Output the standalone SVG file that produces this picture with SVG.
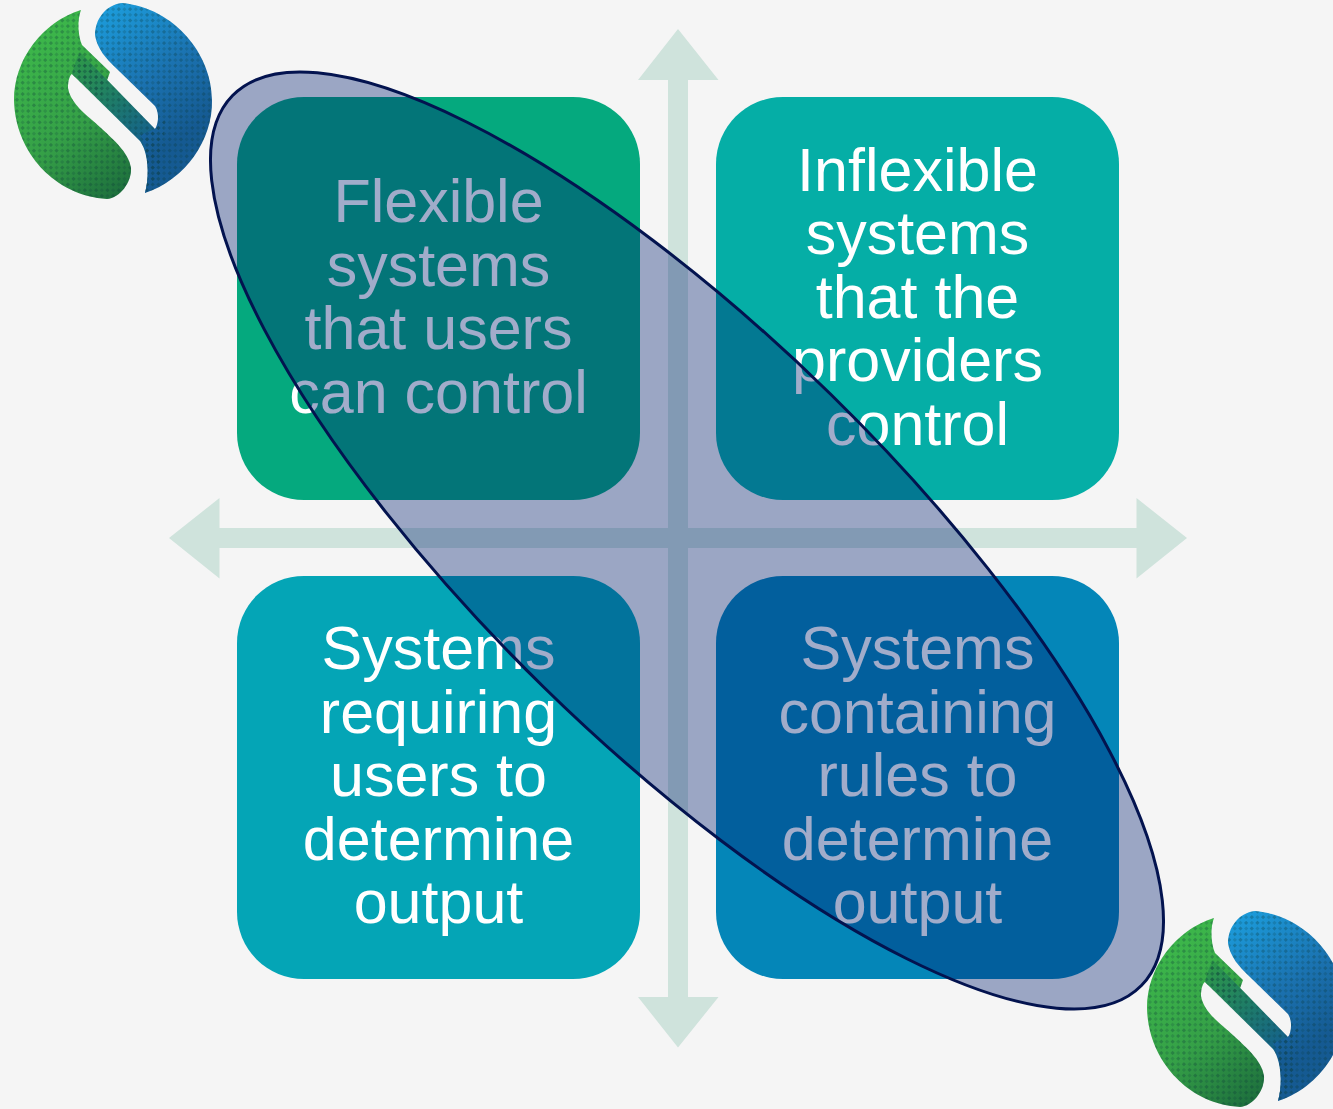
<svg xmlns="http://www.w3.org/2000/svg" width="1333" height="1109" viewBox="0 0 1333 1109">
<style>
.box{stroke:none}
.lbl{font-family:"Liberation Sans",Arial,sans-serif;font-size:61px;fill:#fff;text-anchor:middle}
.arrow{fill:#cfe3dc}
</style>
<defs>
<linearGradient id="gGreen" gradientUnits="userSpaceOnUse" x1="30" y1="50" x2="140" y2="190">
<stop offset="0" stop-color="#3cb54a"/><stop offset=".5" stop-color="#35a047"/><stop offset="1" stop-color="#1b6a3c"/>
</linearGradient>
<linearGradient id="gBand" gradientUnits="userSpaceOnUse" x1="80" y1="50" x2="150" y2="140">
<stop offset="0" stop-color="#2f9a47"/><stop offset=".5" stop-color="#1f7d66"/><stop offset="1" stop-color="#14608f"/>
</linearGradient>
<linearGradient id="gBlue" gradientUnits="userSpaceOnUse" x1="110" y1="10" x2="190" y2="130">
<stop offset="0" stop-color="#1c9ad9"/><stop offset=".55" stop-color="#1b72b0"/><stop offset="1" stop-color="#155a92"/>
</linearGradient>
<pattern id="dither" width="8" height="8" patternUnits="userSpaceOnUse" patternTransform="rotate(45)">
<rect x="1" y="1" width="3" height="3" fill="#0a3a3a" fill-opacity=".3"/>
<rect x="5" y="5" width="3" height="3" fill="#0a3a3a" fill-opacity=".2"/>
</pattern>
<path id="lobeG" d="M81,10 C42,22 14,60 14,100 C15,152 55,196 107,199 C120,198 132,182 131,168 C129,152 112,138 92,120 C80,110 70,100 68,88 C68,80 70,75 72,74 L100,100 L110,72 L82,45 C78,36 77,20 81,10 Z"/>
<path id="band" d="M72,74 L140,141 C148,152 150,175 145,193 L160,180 L165,120 L155,129 L80,52 L76,60 Z"/>
<path id="lobeB" d="M145,193 C185,180 213,140 212,100 C212,55 175,8 122,3 C105,5 95,20 95,35 C97,48 105,58 118,70 L155,106 C160,114 158,125 155,129 L140,135 C147,150 151,172 145,193 Z"/>
<g id="logo">
<use href="#lobeG" fill="url(#gGreen)"/>
<use href="#band" fill="url(#gBand)"/>
<use href="#lobeB" fill="url(#gBlue)"/>
<use href="#lobeG" fill="url(#dither)"/>
<use href="#band" fill="url(#dither)"/>
<use href="#lobeB" fill="url(#dither)"/>
</g>
</defs>
<rect width="1333" height="1109" fill="#f5f5f5"/>
<g id="logo-top"><use href="#logo"/></g>
<g id="logo-bottom"><use href="#logo" x="1133" y="908"/></g>
<g id="connectors">
<path id="axis-vertical" class="arrow" d="M678,29 L718.500,80 H688 V997 H718.500 L678,1047.500 L638,997 H668 V80 H638 Z"/>
<path id="axis-horizontal" class="arrow" d="M169,538 L219.500,498 V528 H1136.500 V498 L1187,538 L1136.500,578.500 V548 H219.500 V578.500 Z"/>
</g>
<g id="node-top-left">
<rect class="box" x="237" y="97" width="403" height="403" rx="67" fill="#05a97e"/>
<text class="lbl" x="438.500" y="222">Flexible</text>
<text class="lbl" x="438.500" y="286">systems</text>
<text class="lbl" x="438.500" y="349">that users</text>
<text class="lbl" x="438.500" y="413">can control</text>
</g>
<g id="node-top-right">
<rect class="box" x="716" y="97" width="403" height="403" rx="67" fill="#05aea6"/>
<text class="lbl" x="917.500" y="191">Inflexible</text>
<text class="lbl" x="917.500" y="254">systems</text>
<text class="lbl" x="917.500" y="318">that the</text>
<text class="lbl" x="917.500" y="381">providers</text>
<text class="lbl" x="917.500" y="445">control</text>
</g>
<g id="node-bottom-left">
<rect class="box" x="237" y="576" width="403" height="403" rx="67" fill="#04a5b6"/>
<text class="lbl" x="438.500" y="669">Systems</text>
<text class="lbl" x="438.500" y="733">requiring</text>
<text class="lbl" x="438.500" y="796">users to</text>
<text class="lbl" x="438.500" y="860">determine</text>
<text class="lbl" x="438.500" y="923">output</text>
</g>
<g id="node-bottom-right">
<rect class="box" x="716" y="576" width="403" height="403" rx="67" fill="#0486b8"/>
<text class="lbl" x="917.500" y="669">Systems</text>
<text class="lbl" x="917.500" y="733">containing</text>
<text class="lbl" x="917.500" y="796">rules to</text>
<text class="lbl" x="917.500" y="860">determine</text>
<text class="lbl" x="917.500" y="923">output</text>
</g>
<g id="node-ellipse">
<ellipse cx="687" cy="540.500" rx="636" ry="205" transform="rotate(44.4 687 540.500)" fill="#001e6e" fill-opacity=".37" stroke="#03134f" stroke-width="3"/>
</g>
</svg>
